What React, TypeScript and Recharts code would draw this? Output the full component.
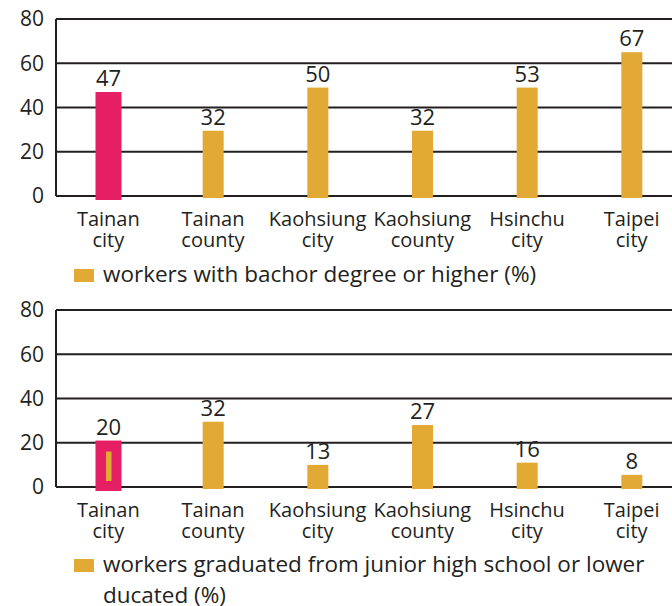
import React from 'react'
import { BarChart, Bar, XAxis, YAxis, CartesianGrid, LabelList } from 'recharts'

const PINK = '#E61F65'
const GOLD = '#E2A934'
const INK = '#231F20'
const FONT = '"Open Sans", sans-serif'

const cities = ['Tainan\ncity', 'Tainan\ncounty', 'Kaohsiung\ncity', 'Kaohsiung\ncounty', 'Hsinchu\ncity', 'Taipei\ncity']
// bar heights as drawn, and the numbers printed above them
const bachelorBars = [47, 29.5, 49, 29.5, 49, 65]
const bachelorLabels = [47, 32, 50, 32, 53, 67]
const juniorBars = [21, 29.5, 10, 28, 11, 5.5]
const juniorLabels = [20, 32, 13, 27, 16, 8]
const yTicks = [0, 20, 40, 60, 80]

const bachelorData = cities.map((c, i) => ({ city: c, value: bachelorBars[i], label: bachelorLabels[i] }))
const juniorData = cities.map((c, i) => ({ city: c, value: juniorBars[i], label: juniorLabels[i] }))

function CityTick({ x, y, payload }: any) {
  const lines = String(payload.value).split('\n')
  return (
    <text x={x} y={y} textAnchor="middle" fill={INK} fontSize={20} fontFamily={FONT}>
      {lines.map((l, i) => (
        <tspan key={i} x={x} dy={i === 0 ? 22 : 21}>{l}</tspan>
      ))}
    </text>
  )
}

const makeShape = (stripe: boolean) => (props: any) => {
  const { x, y, width, height, index } = props
  const hl = index === 0
  const w = hl ? width + 5 : width
  const bx = hl ? x - 2.5 : x
  return (
    <g>
      <rect x={bx} y={y} width={w} height={height + (hl ? 4 : 2)} fill={hl ? PINK : GOLD} />
      {hl && stripe && (
        <rect x={x + width / 2 - 2.5} y={y + 11} width={5.5} height={Math.max(height - 17, 0)} fill={GOLD} />
      )}
    </g>
  )
}

function Panel({ data, stripe }: { data: any[]; stripe: boolean }) {
  return (
    <BarChart width={684} height={256} data={data} margin={{ top: 19, right: 0, left: 0, bottom: 0 }}>
      <CartesianGrid horizontal vertical={false} stroke={INK} strokeWidth={2} strokeOpacity={1} />
      <XAxis dataKey="city" axisLine={false} tickLine={false} interval={0} height={60} tick={<CityTick />} />
      <YAxis domain={[0, 80]} ticks={yTicks} width={56} tickMargin={6} tickLine={false}
             axisLine={{ stroke: INK, strokeWidth: 2 }}
             tick={{ fontSize: 21, fill: INK, fontFamily: FONT }} />
      <Bar dataKey="value" barSize={21} isAnimationActive={false} shape={makeShape(stripe)}>
        <LabelList dataKey="label" position="top" offset={6} fill={INK} fontSize={22} fontFamily={FONT} />
      </Bar>
    </BarChart>
  )
}

function LegendRow({ top, text }: { top: number; text: React.ReactNode }) {
  return (
    <div style={{ position: 'absolute', left: 74, top, display: 'flex', alignItems: 'flex-start' }}>
      <div style={{ width: 20, height: 12.5, background: GOLD, marginTop: 11.5, flexShrink: 0 }} />
      <div style={{ marginLeft: 9, fontSize: 22.5, lineHeight: '31px', color: INK, fontFamily: FONT, width: 580, whiteSpace: 'nowrap' }}>
        {text}
      </div>
    </div>
  )
}

export default function App() {
  return (
    <div style={{ position: 'absolute', left: 0, top: 0, width: 672, height: 606, overflow: 'hidden', background: '#fff' }}>
      <div style={{ position: 'absolute', left: 0, top: 0 }}>
        <Panel data={bachelorData} stripe={false} />
      </div>
      <LegendRow top={257.5} text="workers with bachor degree or higher (%)" />
      <div style={{ position: 'absolute', left: 0, top: 291 }}>
        <Panel data={juniorData} stripe />
      </div>
      <LegendRow top={547.5} text={<>workers graduated from junior high school or lower<br />ducated (%)</>} />
    </div>
  )
}
